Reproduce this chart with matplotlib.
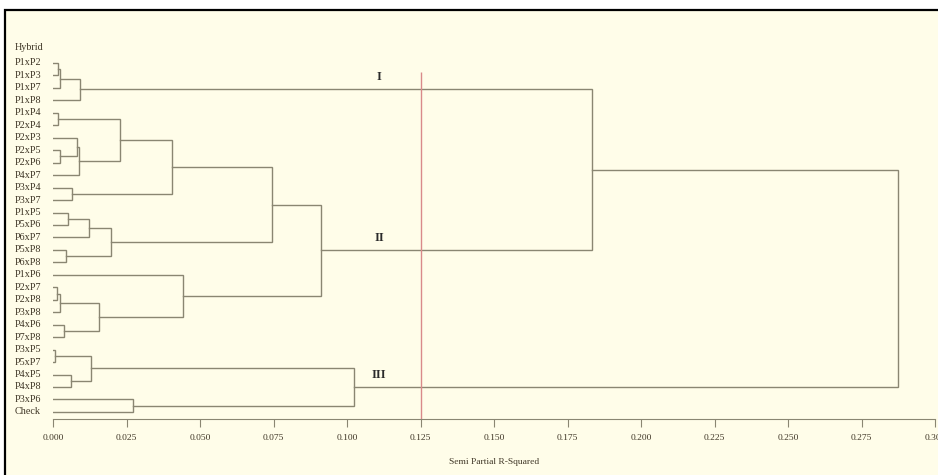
import matplotlib.pyplot as plt
import matplotlib.transforms as mtransforms
from matplotlib.patches import Rectangle

# leaf labels, top to bottom
leaves = ["P1xP2", "P1xP3", "P1xP7", "P1xP8", "P1xP4", "P2xP4", "P2xP3", "P2xP5",
          "P2xP6", "P4xP7", "P3xP4", "P3xP7", "P1xP5", "P5xP6", "P6xP7", "P5xP8",
          "P6xP8", "P1xP6", "P2xP7", "P2xP8", "P3xP8", "P4xP6", "P7xP8", "P3xP5",
          "P5xP7", "P4xP5", "P4xP8", "P3xP6", "Check"]

# merges: (left node, right node, semi partial R-squared); new nodes numbered from len(leaves)
merge_left = [0, 29, 30, 4, 7, 6, 34, 32, 10, 36, 12, 39, 15, 40, 38,
              18, 44, 21, 45, 17, 43, 31, 23, 25, 51, 27, 53, 50]
merge_right = [1, 2, 3, 5, 8, 33, 9, 35, 11, 37, 13, 14, 16, 41, 42,
               19, 20, 22, 46, 47, 48, 49, 24, 26, 52, 28, 54, 55]
merge_height = [0.0016, 0.0024, 0.0092, 0.0017, 0.0025, 0.0082, 0.0087, 0.0228,
                0.0063, 0.0405, 0.0051, 0.0122, 0.0044, 0.0197, 0.0745,
                0.0015, 0.0025, 0.0037, 0.0156, 0.0442, 0.0912, 0.1833,
                0.0007, 0.0061, 0.0129, 0.0272, 0.1024, 0.2874]

# cluster labels sit on the branch leaving these nodes
cluster_names = ["I", "II", "III"]
cluster_nodes = [31, 49, 55]

cut_height = 0.125
xticks = [0.000, 0.025, 0.050, 0.075, 0.100, 0.125, 0.150, 0.175, 0.200,
          0.225, 0.250, 0.275, 0.300]

line_color = "#8a8672"
text_color = "#3f3626"
bg = "#fffde9"

plt.rcParams["font.family"] = ["Liberation Serif", "DejaVu Serif"]

fig = plt.figure(figsize=(9.38, 4.75), dpi=100, facecolor="white")
fig.patches.append(Rectangle((5 / 938, -0.02), 1.0, 1 - 10 / 475 + 0.02,
                             transform=fig.transFigure, facecolor=bg,
                             edgecolor="black", linewidth=1.6, zorder=-10))

ax = fig.add_axes([53 / 938, 56 / 475, 882 / 938, 393.4 / 475])
ax.set_facecolor("none")
ax.set_zorder(5)

# node positions
ypos = {i: float(i) for i in range(len(leaves))}
hpos = {i: 0.0 for i in range(len(leaves))}
for k, (a, b, h) in enumerate(zip(merge_left, merge_right, merge_height)):
    node = len(leaves) + k
    ax.plot([hpos[a], h, h, hpos[b]], [ypos[a], ypos[a], ypos[b], ypos[b]],
            color=line_color, linewidth=1.0, solid_joinstyle="miter")
    ypos[node] = (ypos[a] + ypos[b]) / 2
    hpos[node] = h

ax.set_xlim(0, 0.3)
ax.set_ylim(28.57, -3)

# cut line
ax.vlines(cut_height, 28.57, 0.75, color="#d98a8a", linewidth=1.0)

for name, node in zip(cluster_names, cluster_nodes):
    ax.text(0.111, ypos[node] - 0.5, name, ha="center", va="bottom",
            fontsize=9, fontweight="bold", color="#2a2a2a")

# leaf labels, left aligned
trans = mtransforms.blended_transform_factory(fig.transFigure, ax.transData)
for i, lab in enumerate(leaves):
    ax.text(15 / 938, i, lab, transform=trans, ha="left", va="center",
            fontsize=7.3, color=text_color)
ax.text(15 / 938, -1.25, "Hybrid", transform=trans, ha="left", va="center",
        fontsize=7.3, color=text_color)

for s in ["top", "right", "left"]:
    ax.spines[s].set_visible(False)
ax.spines["bottom"].set_color(line_color)
ax.spines["bottom"].set_bounds(0, 0.3)
ax.set_yticks([])
ax.set_xticks(xticks)
ax.set_xticklabels([f"{t:.3f}" for t in xticks])
ax.tick_params(axis="x", direction="out", length=6, color=line_color,
               labelsize=6.8, labelcolor=text_color, pad=5)
ax.set_xlabel("Semi Partial R-Squared", fontsize=6.8, color=text_color, labelpad=11)

fig.savefig("out.png", dpi=100, facecolor=fig.get_facecolor())
